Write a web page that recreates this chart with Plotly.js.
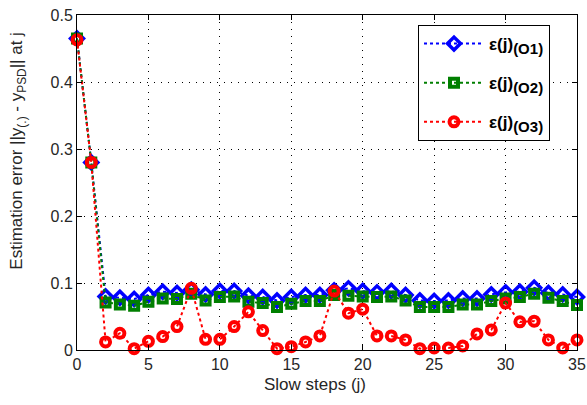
<!DOCTYPE html>
<html>
<head>
<meta charset="utf-8">
<script src="https://cdn.plot.ly/plotly-3.0.1.min.js"></script>
<style>html,body{margin:0;padding:0;background:#fff;}#chart{width:587px;height:405px;}</style>
</head>
<body>
<div id="chart"></div>
<script>
const steps = [0,1,2,3,4,5,6,7,8,9,10,11,12,13,14,15,16,17,18,19,20,21,22,23,24,25,26,27,28,29,30,31,32,33,34,35];
const errO1 = [0.465,0.280,0.080,0.078,0.076,0.082,0.087,0.085,0.090,0.083,0.088,0.088,0.081,0.079,0.074,0.079,0.082,0.082,0.089,0.092,0.088,0.086,0.088,0.082,0.074,0.073,0.074,0.077,0.077,0.083,0.086,0.087,0.093,0.085,0.083,0.079];
const errO2 = [0.465,0.280,0.071,0.068,0.066,0.072,0.077,0.076,0.084,0.074,0.079,0.080,0.072,0.070,0.064,0.069,0.073,0.073,0.082,0.081,0.080,0.079,0.080,0.074,0.064,0.064,0.064,0.068,0.068,0.073,0.077,0.079,0.084,0.078,0.073,0.067];
const errO3 = [0.463,0.280,0.012,0.025,0.002,0.013,0.020,0.035,0.092,0.016,0.016,0.035,0.057,0.029,0.002,0.005,0.012,0.021,0.088,0.055,0.061,0.021,0.021,0.015,0.002,0.003,0.003,0.006,0.024,0.030,0.070,0.042,0.043,0.015,0.003,0.015];
const seriesNames = [
  '<b>ε(j)<sub><span style="font-size:15px">(O1)</span></sub></b>',
  '<b>ε(j)<sub><span style="font-size:15px">(O2)</span></sub></b>',
  '<b>ε(j)<sub><span style="font-size:15px">(O3)</span></sub></b>'];
const xTicks = [0,5,10,15,20,25,30,35];
const yTicks = [0,0.1,0.2,0.3,0.4,0.5];
const yTickText = ['0','0.1','0.2','0.3','0.4','0.5'];
const xTitle = 'Slow steps (j)';
const yTitle = 'Estimation error ||y<sub>(.)</sub> - y<sub>PSD</sub>|| at j';

const font = 'Arial, "Liberation Sans", sans-serif';
function tr(y, name, color, symbol, size, lw, grp){
  return {x: steps, y: y, name: name, type:'scatter', mode:'lines+markers',
    line:{color:color, width:2, dash:'dot'},
    marker:{symbol:symbol, size:size, color:color, line:{width:lw, color:color}},
    cliponaxis:false, legendgroup:grp};
}
const data = [
  tr(errO1, seriesNames[0], '#0000ff', 'diamond-open', 10, 3.5, 'a'),
  tr(errO2, seriesNames[1], '#007f00', 'square-open', 8, 4, 'b'),
  tr(errO3, seriesNames[2], '#ff0000', 'circle-open', 9, 4, 'c')
];
const axisCommon = {showline:true, mirror:'ticks', linecolor:'#000', linewidth:1,
  ticks:'inside', ticklen:5, tickcolor:'#000', tickwidth:1,
  showgrid:true, gridcolor:'#000', griddash:'1px,6px', gridwidth:1, zeroline:false,
  tickfont:{family:font, size:16, color:'#262626'}};
const layout = {
  width:587, height:405,
  margin:{l:77, r:10, t:15, b:55},
  paper_bgcolor:'#fff', plot_bgcolor:'#fff',
  showlegend:true,
  xaxis: Object.assign({}, axisCommon, {range:[0,35], tickvals:xTicks, ticktext:xTicks.map(String)}),
  yaxis: Object.assign({}, axisCommon, {range:[0,0.5], tickvals:yTicks, ticktext:yTickText}),
  annotations:[
    {text:xTitle, xref:'paper', yref:'paper', x:0.476, y:-0.104, xanchor:'center', yanchor:'middle', showarrow:false,
     font:{family:font, size:17, color:'#262626'}},
    {text:yTitle, xref:'paper', yref:'paper', x:-0.118, y:0.595, xanchor:'center', yanchor:'middle', textangle:-90, showarrow:false,
     font:{family:font, size:17, color:'#262626'}}
  ],
  legend:{x:0.682, y:0.97, xanchor:'left', yanchor:'top', bgcolor:'#fff', bordercolor:'#000', borderwidth:1,
    font:{family:font, size:17, color:'#000'}, itemwidth:60, tracegroupgap:14, traceorder:'grouped'}
};
Plotly.newPlot('chart', data, layout, {displayModeBar:false, staticPlot:true});
</script>
</body>
</html>
